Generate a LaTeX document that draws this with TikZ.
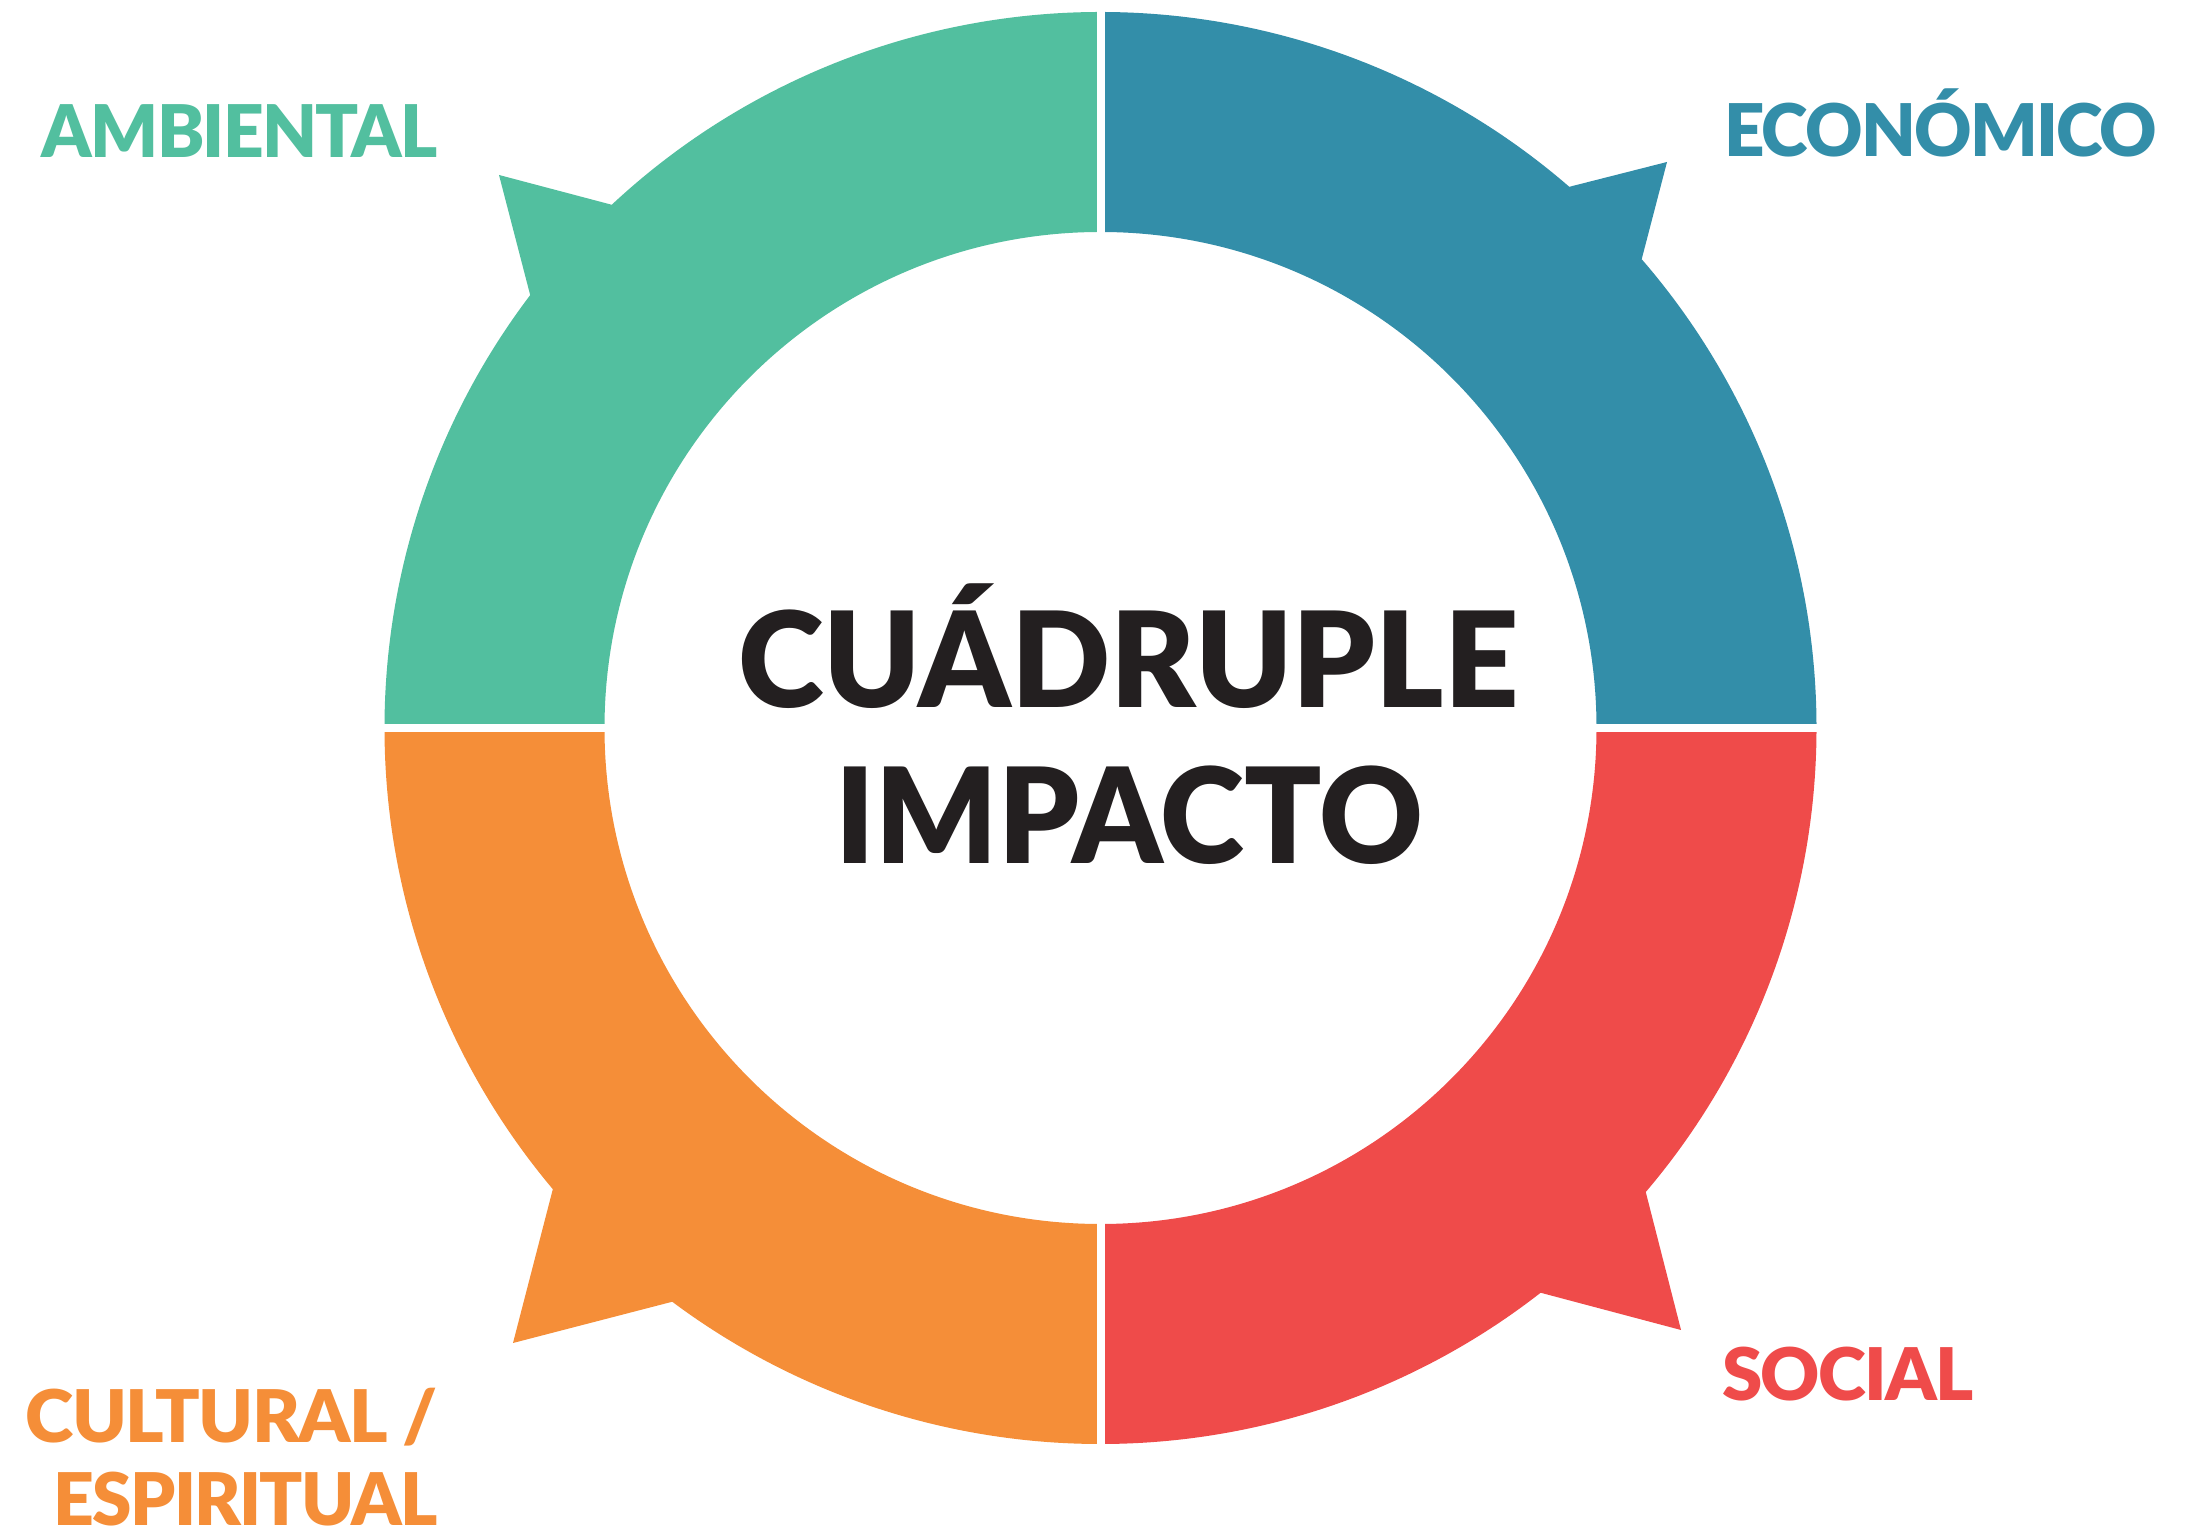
\documentclass[tikz,border=0pt]{standalone}
\usepackage{fontspec}
\setmainfont{Lato}
\IfFontExistsTF{Lato Black}{%
  \newfontfamily\heavyfam{Lato Black}[LetterSpace=-2.5]\newcommand{\heavy}{\heavyfam}%
  \newfontfamily\titlefam{Lato Black}\newcommand{\titlef}{\titlefam}}{%
  \newcommand{\heavy}{\bfseries}\newcommand{\titlef}{\bfseries}}
\usepackage{graphicx}
\definecolor{ambC}{HTML}{52BF9F}
\definecolor{ecoC}{HTML}{338EA9}
\definecolor{socC}{HTML}{EF4B4A}
\definecolor{culC}{HTML}{F58E38}
\definecolor{inkC}{HTML}{231F20}
\newcommand{\fitw}[2]{\resizebox{#1}{\height}{#2}}
\begin{document}
\begin{tikzpicture}[x=1pt,y=1pt,
  lab/.style={inner sep=0pt, font=\fontsize{72.6}{80}\selectfont\heavy},
  ttl/.style={inner sep=0pt, text=inkC, font=\fontsize{132.6}{140}\selectfont\titlef},
  gapline/.style={white, line width=8pt}]
\useasboundingbox (0,0) rectangle (2197,1531);
\fill[white] (0,0) rectangle (2197,1531);
\coordinate (C) at (1100.5,803);
% AMBIENTAL (green)
\fill[ambC] ([shift={(90:716)}]C) arc[start angle=90,end angle=133.05,radius=716]
  -- (499,1356) -- ([shift={(142.8:716)}]C) arc[start angle=142.8,end angle=180,radius=716]
  -- ([shift={(180:496)}]C) arc[start angle=180,end angle=90,radius=496] -- cycle;
% ECONOMICO (blue)
\fill[ecoC] ([shift={(90:716)}]C) arc[start angle=90,end angle=49.1,radius=716]
  -- (1667,1369) -- ([shift={(40.9:716)}]C) arc[start angle=40.9,end angle=0,radius=716]
  -- ([shift={(0:496)}]C) arc[start angle=0,end angle=90,radius=496] -- cycle;
% SOCIAL (red)
\fill[socC] ([shift={(0:716)}]C) arc[start angle=0,end angle=-40.4,radius=716]
  -- (1681,201) -- ([shift={(-52.07:716)}]C) arc[start angle=-52.07,end angle=-90,radius=716]
  -- ([shift={(-90:496)}]C) arc[start angle=-90,end angle=0,radius=496] -- cycle;
% CULTURAL (orange)
\fill[culC] ([shift={(180:716)}]C) arc[start angle=180,end angle=220.1,radius=716]
  -- (513,188) -- ([shift={(233.26:716)}]C) arc[start angle=233.26,end angle=270,radius=716]
  -- ([shift={(270:496)}]C) arc[start angle=270,end angle=180,radius=496] -- cycle;
% gaps
\foreach \a in {0,90,180,270}
  \draw[gapline] ([shift={(\a:490)}]C) -- ([shift={(\a:722)}]C);
% labels
\node[lab, text=ambC, anchor=base west] (amb) at (41.7,1373.3) {\fitw{396pt}{AMBIENTAL}};
\node[lab, text=ecoC, anchor=base west] (eco) at (1724,1374.3) {\fitw{433pt}{ECONÓMICO}};
\node[lab, text=socC, anchor=base west] (soc) at (1722,130) {\fitw{251pt}{SOCIAL}};
\node[lab, text=culC, anchor=base east] (cul1) at (438,88.3) {\fitw{412pt}{CULTURAL /}};
\node[lab, text=culC, anchor=base east, text depth=0pt] (cul2) at (438,6) {\fitw{384pt}{ESPIRITUAL}};
\node[ttl, anchor=base] (ttl1) at (1128.3,823.7) {\fitw{780.6pt}{CUÁDRUPLE}};
\node[ttl, anchor=base] (ttl2) at (1129.7,667) {\fitw{587.4pt}{IMPACTO}};
\end{tikzpicture}
\end{document}
